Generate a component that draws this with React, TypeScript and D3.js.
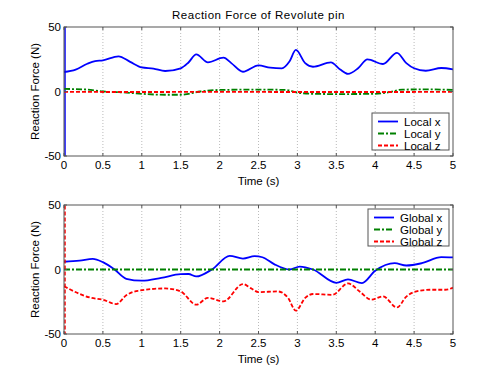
import React from "react";
import * as d3 from "d3";

type P = [number, number];

const xTicks = [0, 0.5, 1, 1.5, 2, 2.5, 3, 3.5, 4, 4.5, 5];
const yTicks = [-50, 0, 50];

const localX: P[] = [
  [0, 15.1], [0.15, 17], [0.3, 21.5], [0.4, 23.6], [0.5, 24.2], [0.7, 27.3], [0.85, 23], [1.0, 18.7],
  [1.15, 17.8], [1.3, 15.9], [1.5, 18], [1.6, 22.5], [1.7, 28.8], [1.85, 22.6], [2.05, 26.2], [2.15, 22],
  [2.3, 15.3], [2.5, 20.3], [2.65, 18.5], [2.8, 18], [2.9, 23.5], [2.98, 32.2], [3.1, 22], [3.2, 19.2],
  [3.43, 22.6], [3.55, 17], [3.65, 13.6], [3.78, 18], [3.9, 24.9], [4.1, 21.3], [4.28, 30], [4.4, 22],
  [4.5, 18], [4.65, 16.1], [4.85, 18.2], [5, 17.2],
];
const localY: P[] = [
  [0, 2], [0.3, 1.5], [0.5, 0], [0.8, -0.8], [1.0, -1.8], [1.3, -2.5], [1.5, -2.5], [1.6, -1.8],
  [1.75, 0], [2.0, 1.2], [2.5, 1.5], [2.85, 1.2], [3.0, -0.8], [3.2, -1.8], [3.5, -2], [4.0, -1.8],
  [4.2, -0.3], [4.35, 1.5], [4.7, 1.6], [5, 1.2],
];
const localZ: P[] = [
  [0, -0.3], [1, -0.4], [2, -0.3], [3, -0.4], [4, -0.4], [5, -0.3],
];
const globalX: P[] = [
  [0, 6], [0.2, 6.8], [0.37, 8.3], [0.5, 5.7], [0.65, 0], [0.8, -7.2], [1.0, -8.7], [1.25, -6.5],
  [1.5, -3.6], [1.6, -3.5], [1.7, -5.4], [1.9, 0], [2.13, 10.6], [2.3, 8.5], [2.45, 10.3], [2.55, 9.5],
  [2.7, 4.2], [2.9, 0], [3.03, 2.3], [3.2, 0], [3.5, -10.3], [3.65, -7.7], [3.83, -10.5], [4.0, -1],
  [4.25, 4.9], [4.4, 3.1], [4.6, 4.9], [4.85, 9.6], [5, 9.4],
];
const globalY: P[] = [
  [0, 0], [5, 0],
];
const globalZ: P[] = [
  [0, -13], [0.35, -22], [0.5, -23.4], [0.67, -26.8], [0.8, -20], [0.95, -16.5], [1.3, -14.7],
  [1.5, -17], [1.7, -27.3], [1.85, -22], [2.05, -24.7], [2.3, -11.3], [2.4, -14.4], [2.5, -17.5],
  [2.75, -17], [2.88, -22], [2.98, -31.9], [3.1, -22], [3.2, -19], [3.45, -19.6], [3.65, -10.8],
  [3.8, -17], [3.95, -23.4], [4.1, -20.8], [4.28, -29.4], [4.4, -21], [4.5, -17.5], [4.7, -15.7],
  [4.9, -15.7], [5, -14.1],
];
// initial transient at t = 0 (leaves the axis range)
const localXSpike = [-200, 200];
const globalZSpike = [-200, 200];

const FONT = "'Liberation Sans', Arial, sans-serif";

type Series = { name: string; data: P[]; color: string; dash?: string; spike?: number[] };

function Panel({ top, series, title, legendX, legendY, legendW }: {
  top: number; series: Series[]; title?: string; legendX: number; legendY: number; legendW: number;
}) {
  const left = 64, right = 453, h = 129;
  const x = d3.scaleLinear().domain([0, 5]).range([left, right]);
  const y = d3.scaleLinear().domain([-50, 50]).range([top + h, top]);
  const line = d3.line<P>().x(d => x(d[0])).y(d => y(d[1])).curve(d3.curveMonotoneX);
  const clipId = `clip${top}`;
  return (
    <g>
      <defs>
        <clipPath id={clipId}><rect x={left} y={top} width={right - left} height={h} /></clipPath>
      </defs>
      <rect x={left} y={top} width={right - left} height={h} fill="#fff" />
      {xTicks.slice(1, -1).map(t => (
        <line key={t} x1={x(t)} x2={x(t)} y1={top} y2={top + h} stroke="#bbb" strokeWidth={1} strokeDasharray="1,2" />
      ))}
      <g clipPath={`url(#${clipId})`}>
        {series.map(s => (
          <g key={s.name}>
            {s.spike && (
              <line x1={x(0) + 1} x2={x(0) + 1} y1={y(s.spike[0])} y2={y(s.spike[1])} stroke={s.color} strokeWidth={1.5} strokeDasharray={s.dash} />
            )}
            <path d={line(s.data) || ""} fill="none" stroke={s.color} strokeWidth={1.8} strokeDasharray={s.dash} />
          </g>
        ))}
      </g>
      <rect x={left} y={top} width={right - left} height={h} fill="none" stroke="#555" strokeWidth={1} />
      {xTicks.map(t => (
        <g key={t}>
          <line x1={x(t)} x2={x(t)} y1={top + h} y2={top + h - 3} stroke="#555" />
          <line x1={x(t)} x2={x(t)} y1={top} y2={top + 3} stroke="#555" />
          <text x={x(t)} y={top + h + 13} textAnchor="middle" fontSize={11.5} fontFamily={FONT} fill="#000">{t}</text>
        </g>
      ))}
      {yTicks.map(t => (
        <g key={t}>
          <line x1={left} x2={left + 3} y1={y(t)} y2={y(t)} stroke="#555" />
          <line x1={right} x2={right - 3} y1={y(t)} y2={y(t)} stroke="#555" />
          <text x={left - 3} y={y(t) + 4} textAnchor="end" fontSize={11.5} fontFamily={FONT} fill="#000">{t}</text>
        </g>
      ))}
      <text x={(left + right) / 2} y={top + h + 29} textAnchor="middle" fontSize={11.5} fontFamily={FONT}>Time (s)</text>
      <text transform={`translate(39,${top + h / 2}) rotate(-90)`} textAnchor="middle" fontSize={11.5} fontFamily={FONT}>Reaction Force (N)</text>
      {title && (
        <text x={(left + right) / 2} y={top - 8} textAnchor="middle" fontSize={11.5} fontFamily={FONT} letterSpacing={0.5}>{title}</text>
      )}
      <rect x={legendX} y={legendY} width={legendW} height={37} fill="#fff" stroke="#555" strokeWidth={1} />
      {series.map((s, i) => (
        <g key={s.name}>
          <line x1={legendX + 6} x2={legendX + 26} y1={legendY + 8.5 + i * 12} y2={legendY + 8.5 + i * 12} stroke={s.color} strokeWidth={1.8} strokeDasharray={s.dash} />
          <text x={legendX + 32} y={legendY + 12.5 + i * 12} fontSize={11.5} fontFamily={FONT}>{s.name}</text>
        </g>
      ))}
    </g>
  );
}

export default function App() {
  const blue = "#0000ff", green = "#008000", red = "#ff0000";
  const dashDot = "6,2,2,2", dashed = "4,2";
  const top: Series[] = [
    { name: "Local x", data: localX, color: blue, spike: localXSpike },
    { name: "Local y", data: localY, color: green, dash: dashDot },
    { name: "Local z", data: localZ, color: red, dash: dashed },
  ];
  const bottom: Series[] = [
    { name: "Global x", data: globalX, color: blue },
    { name: "Global y", data: globalY, color: green, dash: dashDot },
    { name: "Global z", data: globalZ, color: red, dash: dashed, spike: globalZSpike },
  ];
  return (
    <svg width={500} height={375} style={{ position: "absolute", left: 0, top: 0, background: "#fff" }}>
      <rect width={500} height={375} fill="#fff" />
      <Panel top={27} series={top} title="Reaction Force of Revolute pin" legendX={372} legendY={113} legendW={77} />
      <Panel top={205} series={bottom} legendX={368} legendY={209} legendW={81} />
    </svg>
  );
}
